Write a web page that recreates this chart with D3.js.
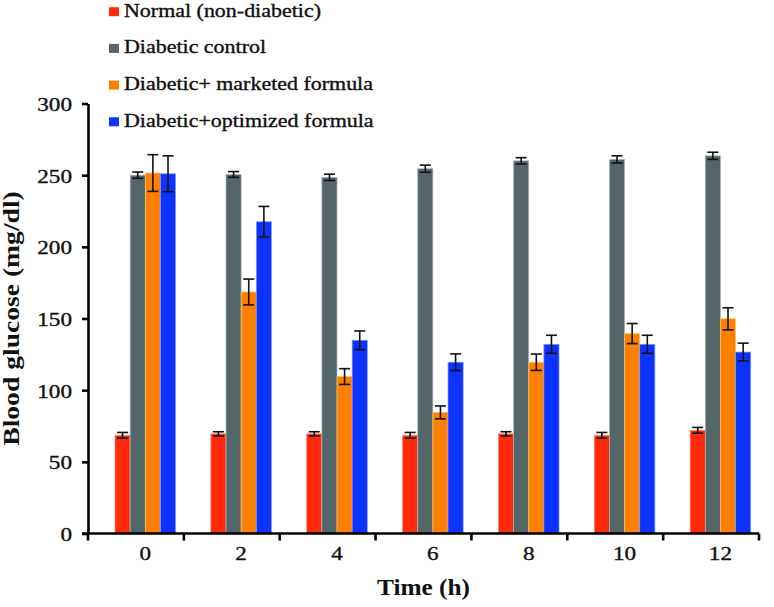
<!DOCTYPE html>
<html>
<head>
<meta charset="utf-8">
<script src="https://cdn.jsdelivr.net/npm/d3@7"></script>
<style>
  html, body { margin: 0; padding: 0; background: #fff; }
  svg { display: block; }
</style>
</head>
<body>
<svg id="chart" width="774" height="607"></svg>
<script>
// ---- data ----
const times = ["0", "2", "4", "6", "8", "10", "12"];
const seriesNames = ["Normal (non-diabetic)", "Diabetic control", "Diabetic+ marketed formula", "Diabetic+optimized formula"];
const normal = [68.5, 69.5, 69.5, 68.5, 69.5, 68.5, 72];
const normalErr = [2, 1.5, 1.5, 2, 1.5, 2, 2];
const control = [250, 250.5, 248.5, 254.5, 260, 261, 263.5];
const controlErr = [2.2, 2, 2.2, 2.5, 2.2, 2.5, 2.5];
const marketed = [251.5, 168.5, 109.5, 84.5, 119.5, 139.5, 149.8];
const marketedErr = [12.8, 9, 5.5, 4.5, 5.7, 7, 7.7];
const optimized = [251, 217.5, 134.8, 119.5, 132, 132, 126.6];
const optimizedErr = [12.5, 10.7, 6.5, 5.8, 6.3, 6.3, 6.2];
const yTicks = [0, 50, 100, 150, 200, 250, 300];
const colors = ["#FF2A0C", "#53676B", "#FF8000", "#0F33FF"];
const edgeColors = ["#FF8A7A", "#A9B8BC", "#FFC060", "#7F9CFF"];

const values = [normal, control, marketed, optimized];
const errors = [normalErr, controlErr, marketedErr, optimizedErr];

const svg = d3.select("#chart");
const serif = "'Liberation Serif', 'Times New Roman', serif";
const K = 1.22; // horizontal text stretch

function stretch(sel, k) {
  sel.each(function () {
    const w = this.getComputedTextLength();
    d3.select(this).attr("textLength", w * k).attr("lengthAdjust", "spacingAndGlyphs");
  });
}
function heavy(sel) {
  sel.attr("stroke", "#111").attr("stroke-width", 0.35);
}

const mLeft = 88, mRight = 759, mTop = 103.5, mBottom = 533.5;
const y = d3.scaleLinear().domain([0, 300]).range([mBottom, mTop]);
const x = d3.scaleBand().domain(times).range([mLeft, mRight]).padding(0);
const xs = d3.scaleBand().domain(seriesNames).range([27, 27 + 4 * 15.15]).padding(0);

// ---- bars ----
const g = svg.append("g");
times.forEach((t, i) => {
  seriesNames.forEach((s, j) => {
    const v = values[j][i];
    const bx = x(t) + xs(s);
    g.append("rect")
      .attr("x", bx).attr("y", y(v))
      .attr("width", xs.bandwidth()).attr("height", y(0) - y(v))
      .attr("fill", colors[j])
      .attr("stroke", edgeColors[j]).attr("stroke-width", 0.7);
  });
});
// ---- error bars ----
times.forEach((t, i) => {
  seriesNames.forEach((s, j) => {
    const v = values[j][i], e = errors[j][i];
    const cx = x(t) + xs(s) + xs.bandwidth() / 2;
    const eg = g.append("g").attr("stroke", "#111").attr("stroke-width", 1.6);
    eg.append("line").attr("x1", cx).attr("x2", cx).attr("y1", y(v + e)).attr("y2", y(v - e));
    [v + e, v - e].forEach(w => {
      eg.append("line").attr("x1", cx - 5.5).attr("x2", cx + 5.5).attr("y1", y(w)).attr("y2", y(w));
    });
  });
});

// ---- y axis ----
const yAxis = svg.append("g").attr("transform", `translate(${mLeft},0)`)
  .call(d3.axisLeft(y).tickValues(yTicks).tickSize(6).tickSizeOuter(0).tickPadding(10));
yAxis.select(".domain").attr("stroke", "#000").attr("stroke-width", 2.6);
yAxis.selectAll(".tick line").attr("stroke", "#000").attr("stroke-width", 2.6);
yAxis.selectAll(".tick text").attr("font-family", serif).attr("font-size", 19).attr("fill", "#111").attr("dy", "0.36em")
  .call(heavy).call(stretch, K);

// ---- x axis ----
const xg = svg.append("g");
xg.append("line").attr("x1", mLeft - 6).attr("x2", mRight).attr("y1", mBottom).attr("y2", mBottom)
  .attr("stroke", "#000").attr("stroke-width", 2.6);
const bounds = times.map(t => x(t)).concat([x(times[times.length - 1]) + x.step()]);
xg.selectAll("line.tk").data(bounds).enter().append("line").attr("class", "tk")
  .attr("x1", d => d).attr("x2", d => d).attr("y1", mBottom).attr("y2", mBottom + 7)
  .attr("stroke", "#000").attr("stroke-width", 2.6);
xg.selectAll("text").data(times).enter().append("text")
  .attr("x", t => x(t) + xs(seriesNames[0]) + 2 * xs.bandwidth())
  .attr("y", 560)
  .attr("text-anchor", "middle")
  .attr("font-family", serif).attr("font-size", 19).attr("fill", "#111")
  .text(t => t).call(heavy).call(stretch, K);

// ---- axis titles ----
svg.append("text")
  .attr("transform", `translate(19,${(mTop + mBottom) / 2}) rotate(-90)`)
  .attr("text-anchor", "middle")
  .attr("font-family", serif).attr("font-size", 23).attr("font-weight", "bold").attr("fill", "#111")
  .text("Blood glucose (mg/dl)").call(stretch, 1.2);
svg.append("text")
  .attr("x", (mLeft + mRight) / 2).attr("y", 595)
  .attr("text-anchor", "middle")
  .attr("font-family", serif).attr("font-size", 23).attr("font-weight", "bold").attr("fill", "#111")
  .text("Time (h)").call(stretch, 1.1);

// ---- legend ----
const lg = svg.append("g");
seriesNames.forEach((s, j) => {
  const by = 16.7 + j * 36.7;
  lg.append("rect").attr("x", 109).attr("y", by - 9.5).attr("width", 10).attr("height", 9).attr("fill", colors[j]);
  lg.append("text").attr("x", 124).attr("y", by)
    .attr("font-family", serif).attr("font-size", 18).attr("fill", "#111")
    .text(s).call(heavy).call(stretch, K);
});
</script>
</body>
</html>
